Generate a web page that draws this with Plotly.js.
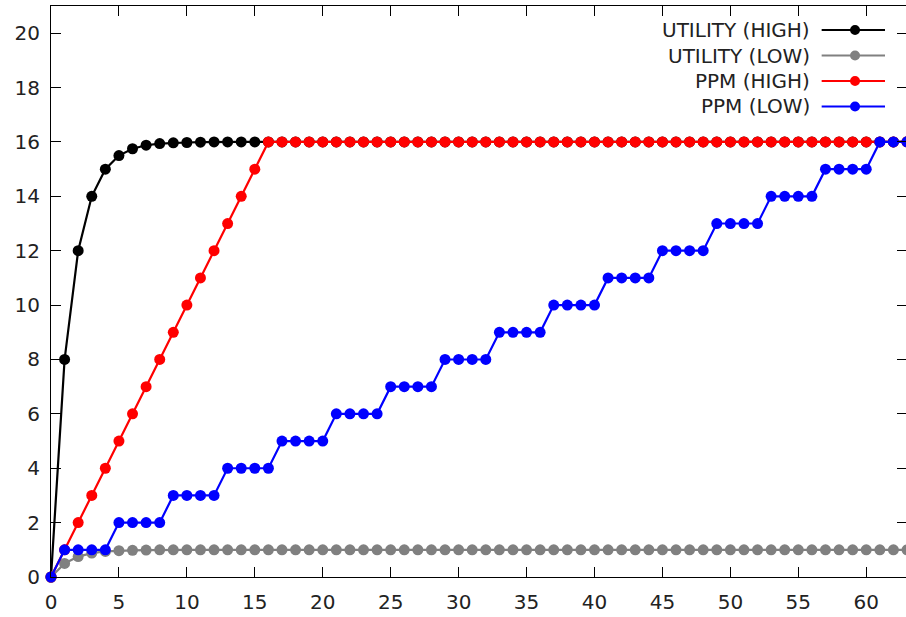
<!DOCTYPE html>
<html>
<head>
<meta charset="utf-8">
<script src="https://cdn.plot.ly/plotly-3.0.1.min.js"></script>
<style>
html, body { margin:0; padding:0; background:#fff; overflow:hidden; width:906px; height:617px; }
#chart { width:908px; height:617px; }
</style>
</head>
<body>
<div id="chart"></div>
<script>
// Data
const steps = [0,1,2,3,4,5,6,7,8,9,10,11,12,13,14,15,16,17,18,19,20,21,22,23,24,25,26,27,28,29,30,31,32,33,34,35,36,37,38,39,40,41,42,43,44,45,46,47,48,49,50,51,52,53,54,55,56,57,58,59,60,61,62,63];

const utilityHigh = [0,8,12,14,15,15.5,15.75,15.88,15.94,15.97,15.98,15.99,16,16,16,16,16,16,16,16,16,16,16,16,16,16,16,16,16,16,16,16,16,16,16,16,16,16,16,16,16,16,16,16,16,16,16,16,16,16,16,16,16,16,16,16,16,16,16,16,16,16,16,16];

const utilityLow = [0,0.5,0.75,0.88,0.94,0.97,0.98,0.99,1,1,1,1,1,1,1,1,1,1,1,1,1,1,1,1,1,1,1,1,1,1,1,1,1,1,1,1,1,1,1,1,1,1,1,1,1,1,1,1,1,1,1,1,1,1,1,1,1,1,1,1,1,1,1,1];

const ppmHigh = [0,1,2,3,4,5,6,7,8,9,10,11,12,13,14,15,16,16,16,16,16,16,16,16,16,16,16,16,16,16,16,16,16,16,16,16,16,16,16,16,16,16,16,16,16,16,16,16,16,16,16,16,16,16,16,16,16,16,16,16,16,16,16,16];

const ppmLow = [0,1,1,1,1,2,2,2,2,3,3,3,3,4,4,4,4,5,5,5,5,6,6,6,6,7,7,7,7,8,8,8,8,9,9,9,9,10,10,10,10,11,11,11,11,12,12,12,12,13,13,13,13,14,14,14,14,15,15,15,15,16,16,16];

const seriesNames = ["UTILITY (HIGH)", "UTILITY (LOW)", "PPM (HIGH)", "PPM (LOW)"];
const seriesColors = ["#000000", "#808080", "#ff0000", "#0000ff"];
const seriesValues = [utilityHigh, utilityLow, ppmHigh, ppmLow];

const xTicks = [0,5,10,15,20,25,30,35,40,45,50,55,60];
const yTicks = [0,2,4,6,8,10,12,14,16,18,20];

const FONT = "DejaVu Sans, sans-serif";
const TXT = "#222222";

const traces = seriesValues.map((vals, i) => ({
  type: "scatter",
  mode: "lines+markers",
  name: seriesNames[i],
  x: steps,
  y: vals,
  cliponaxis: false,
  line: { color: seriesColors[i], width: 2.2 },
  marker: { color: seriesColors[i], size: 11 },
  showlegend: false
}));

// Custom legend (gnuplot style: text right-aligned, sample to the right)
const legTextX = 0.8887, legLineX0 = 0.9003, legLineX1 = 0.9743, legMarkX = 0.9393;
const legRowsPx = [30, 55.5, 81, 106.5];
const plotTop = 6, plotH = 571;
const annotations = [];
const shapes = [];
seriesNames.forEach((nm, i) => {
  const py = 1 - (legRowsPx[i] - plotTop) / plotH;
  annotations.push({
    xref: "paper", yref: "paper", x: legTextX, y: py,
    xanchor: "right", yanchor: "middle", showarrow: false,
    text: nm, font: { family: FONT, size: 20, color: TXT }
  });
  shapes.push({
    type: "line", xref: "paper", yref: "paper",
    x0: legLineX0, x1: legLineX1, y0: py, y1: py,
    line: { color: seriesColors[i], width: 2.2 }
  });
  shapes.push({
    type: "circle", xref: "paper", yref: "paper",
    xsizemode: "pixel", ysizemode: "pixel",
    xanchor: legMarkX, yanchor: py,
    x0: -5, x1: 5, y0: -5, y1: 5,
    fillcolor: seriesColors[i], line: { color: seriesColors[i], width: 0 }
  });
});

const axisCommon = {
  showgrid: false, zeroline: false,
  showline: true, linecolor: "#000", linewidth: 1,
  ticks: "inside", ticklen: 10, tickwidth: 1, tickcolor: "#000",
  mirror: "ticks",
  tickfont: { family: FONT, size: 20, color: TXT }
};

const layout = {
  width: 908, height: 617,
  margin: { l: 51, r: 1, t: 6, b: 40 },
  paper_bgcolor: "#fff", plot_bgcolor: "#fff",
  showlegend: false,
  xaxis: Object.assign({}, axisCommon, { range: [0, 63], tickvals: xTicks, ticktext: xTicks.map(String), ticklabelstandoff: 7 }),
  yaxis: Object.assign({}, axisCommon, { range: [0, 21], tickvals: yTicks, ticktext: yTicks.map(String), ticklabelstandoff: 6 }),
  annotations: annotations,
  shapes: shapes
};

Plotly.newPlot("chart", traces, layout, { displayModeBar: false, staticPlot: true });
</script>
</body>
</html>
